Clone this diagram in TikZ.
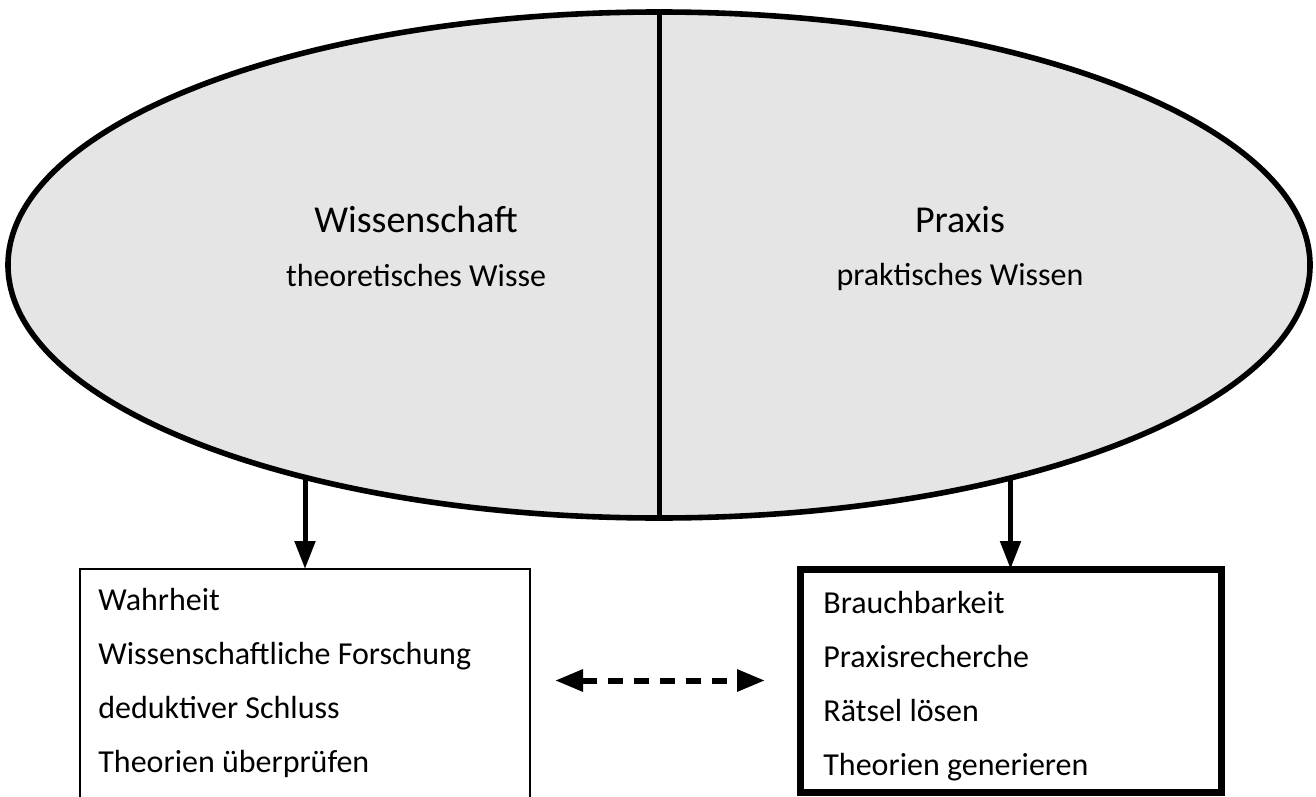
\documentclass[tikz,border=0pt]{standalone}
\usepackage{fontspec}
\setmainfont{Carlito}
\usetikzlibrary{arrows.meta,shapes.geometric,positioning,calc}
\definecolor{feldgrau}{HTML}{E5E5E5}

\begin{document}
\begin{tikzpicture}[x=0.5pt,y=-0.5pt,
    pfeil/.style={line width=2.5pt,-{Triangle[length=14pt,width=10pt]}},
    doppelpfeil/.style={line width=3pt,dash pattern=on 7.5pt off 5.5pt,
        {Triangle[length=14pt,width=10.5pt]}-{Triangle[length=14pt,width=10.5pt]}},
    kasten/.style={draw,rectangle,outer sep=0pt,inner sep=0pt},
    eintrag/.style={anchor=base west,inner sep=0pt,font=\fontsize{16pt}{19pt}\selectfont},
    titel/.style={anchor=base,inner sep=0pt,font=\fontsize{19pt}{23pt}\selectfont},
    untertitel/.style={anchor=base,inner sep=0pt,font=\fontsize{16pt}{19pt}\selectfont}]
    \useasboundingbox (0,0) rectangle (1316,797);
    \clip (0,0) rectangle (1316,797);
    \coordinate (mitte) at (659,265);
    \node[kasten,line width=1pt,minimum width=225pt,minimum height=125.5pt] (lbox) at (305,694.5) {};
    \node[kasten,line width=3.5pt,minimum width=210.5pt,minimum height=111.5pt] (rbox) at (1010.5,680.5) {};
    \draw[pfeil] (lbox.north |- mitte) -- (lbox.north);
    \draw[pfeil] (rbox.north |- mitte) -- (rbox.north);
    \node[ellipse,draw,line width=2.8pt,fill=feldgrau,outer sep=0pt,inner sep=0pt,
        minimum width=651pt,minimum height=253pt] (oval) at (mitte) {};
    \draw[line width=2.5pt] (oval.north) -- (oval.south);
    \node[titel] (wiss) at (416,232) {Wissenschaft};
    \node[untertitel] (theo) at (416,286) {theoretisches Wisse};
    \node[titel] (prax) at (960,232) {Praxis};
    \node[untertitel] (prak) at (960,285) {praktisches Wissen};
    \foreach \txt [count=\i] in {Wahrheit,Wissenschaftliche Forschung,deduktiver Schluss,Theorien überprüfen}
        \node[eintrag] (l\i) at ($(lbox.north west)+(18,41+54*\i-54)$) {\txt};
    \foreach \txt [count=\i] in {Brauchbarkeit,Praxisrecherche,Rätsel lösen,Theorien generieren}
        \node[eintrag] (r\i) at ($(rbox.north west)+(23,44+54*\i-54)$) {\txt};
    \draw[doppelpfeil,shorten <=12.5pt,shorten >=17.5pt] (lbox.east |- rbox.center) -- (rbox.west);
\end{tikzpicture}
\end{document}
